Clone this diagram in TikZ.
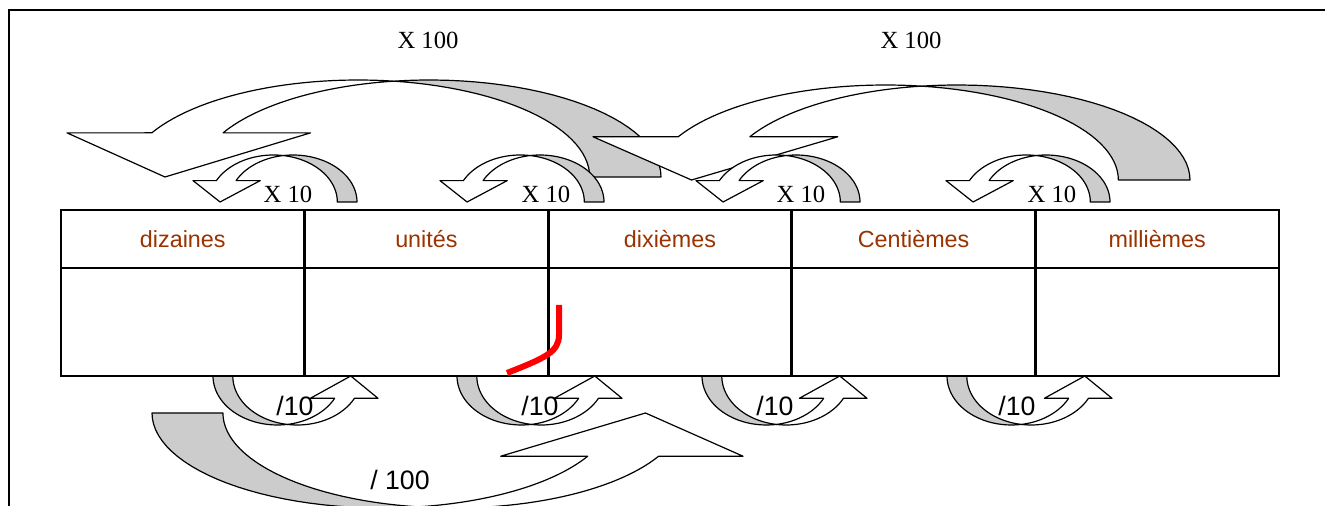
\documentclass[tikz,border=0pt]{standalone}
\usepackage{fontspec}
\setmainfont{Liberation Serif}
\setsansfont{Liberation Sans}
\usetikzlibrary{positioning}

\definecolor{backgray}{RGB}{204,204,204}
\definecolor{placebrown}{RGB}{153,51,0}

\begin{document}
\begin{tikzpicture}[
    x=0.75pt, y=0.75pt,
    % cells of the place value table
    cell/.style={rectangle, draw, line width=2pt, inner sep=0pt, outer sep=0pt, minimum width=182.7pt},
    unitcell/.style={cell, minimum height=43.5pt, text=placebrown, font=\sffamily\fontsize{17.5}{19}\selectfont},
    valuecell/.style={cell, minimum height=81pt},
    mult/.style={font=\fontsize{18.5}{20}\selectfont},
    divide/.style={font=\sffamily\fontsize{20}{22}\selectfont},
    curved arrow/.pic={
        % back of the band, at the tail
        \filldraw[fill=backgray, line width=0.9pt, line join=round]
            plot[domain=180:81.15, samples=30, variable=\t] ({0.39+0.39*cos(\t)}, {sin(\t)})
            -- plot[domain=98.85:180, samples=30, variable=\t] ({0.51+0.39*cos(\t)}, {sin(\t)}) -- cycle;
        % front of the band and the head
        \filldraw[fill=white, line width=0.9pt, line join=round]
            plot[domain=98.85:27.07, samples=30, variable=\t] ({0.51+0.39*cos(\t)}, {sin(\t)})
            -- (1,0.455) -- (0.835,0) -- (0.59,0.455)
            -- plot[domain=27.07:81.15, samples=30, variable=\t] ({0.39+0.39*cos(\t)}, {sin(\t)}) -- cycle;
    }
]
    \useasboundingbox (0,0) rectangle (1325,506);
    \draw[line width=1.5pt] (1325,496) -- (9,496) -- (9,0);

    % X 100 arrows, then X 10 arrows
    \pic[xscale=-594, yscale=97] at (661,329) {curved arrow};
    \pic[xscale=-597, yscale=95] at (1190,326) {curved arrow};
    \foreach \tx in {357,604,860,1110}
        \pic[xscale=-164, yscale=47] at (\tx,304) {curved arrow};

    % / 100 arrow, then /10 arrows
    \pic[xscale=591, yscale=-95] at (152,93) {curved arrow};
    \foreach \tx in {213,457,702,947}
        \pic[xscale=165, yscale=-49] at (\tx,130) {curved arrow};

    \node[unitcell] (diz) at (182.8,267) {dizaines};
    \node[unitcell, right=0pt of diz] (uni) {unités};
    \node[unitcell, right=0pt of uni] (dix) {dixièmes};
    \node[unitcell, right=0pt of dix] (cen) {Centièmes};
    \node[unitcell, right=0pt of cen] (mil) {millièmes};

    \node[valuecell, below=0pt of diz] (diz-v) {};
    \node[valuecell, below=0pt of uni] (uni-v) {};
    \node[valuecell, below=0pt of dix] (dix-v) {};
    \node[valuecell, below=0pt of cen] (cen-v) {};
    \node[valuecell, below=0pt of mil] (mil-v) {};

    \node[mult] (x100a) at (428,466) {X 100};
    \node[mult] (x100b) at (911,466) {X 100};
    \foreach \lx/\nm in {288/a,546/b,801/c,1052/d}
        \node[mult] (x10\nm) at (\lx,312) {X 10};
    \foreach \lx/\nm in {295/a,540/b,775/c,1017/d}
        \node[divide] (d10\nm) at (\lx,100) {/10};
    \node[divide] (d100) at (400,26) {/ 100};

    \draw[red, line width=4.5pt] (559,201) -- (559,171) .. controls (559,154) and (545,148) .. (507,133);
\end{tikzpicture}
\end{document}
